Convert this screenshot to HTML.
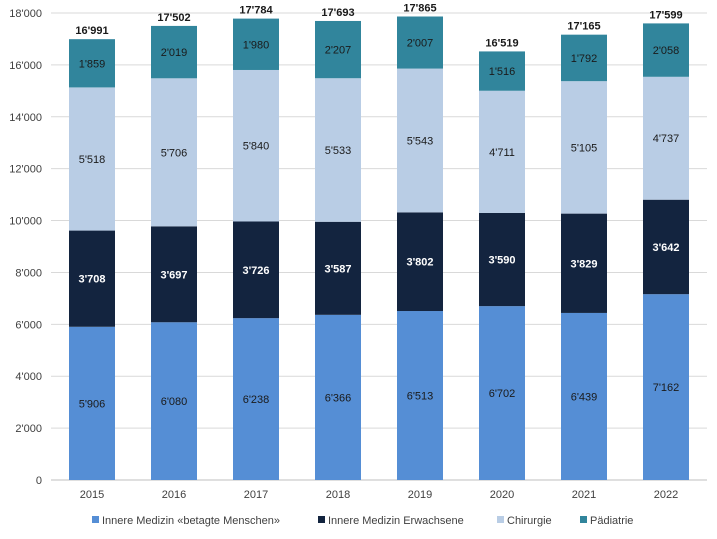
<!DOCTYPE html>
<html><head><meta charset="utf-8"><style>
body{margin:0;background:#fff;font-family:"Liberation Sans",Arial,sans-serif}
svg text{font-family:"Liberation Sans",Arial,sans-serif}
</style></head><body>
<svg id="chart" width="717" height="534" xmlns="http://www.w3.org/2000/svg"></svg>
<script>
const years=["2015","2016","2017","2018","2019","2020","2021","2022"];
const betagte=[5906,6080,6238,6366,6513,6702,6439,7162];
const erwachsene=[3708,3697,3726,3587,3802,3590,3829,3642];
const chirurgie=[5518,5706,5840,5533,5543,4711,5105,4737];
const paediatrie=[1859,2019,1980,2207,2007,1516,1792,2058];
const yTicks=[0,2000,4000,6000,8000,10000,12000,14000,16000,18000];
const seriesNames=["Innere Medizin «betagte Menschen»","Innere Medizin Erwachsene","Chirurgie","Pädiatrie"];
const series=[betagte,erwachsene,chirurgie,paediatrie];
const colors=["#558ed5","#13243f","#b9cde5","#31859c"];
const textCol=["#1a1a1a","#ffffff","#1a1a1a","#1a1a1a"];
const svg=document.getElementById('chart');
const NS="http://www.w3.org/2000/svg";
const x0=51,x1=707,yBase=480,yTop=13,yMax=18000;
const bw=(x1-x0)/years.length,barW=46;
function y(v){return yBase-(v/yMax)*(yBase-yTop);}
function xc(i){return x0+bw*(i+0.5);}
function fmt(v){const s=String(v);return s.length>3?s.slice(0,-3)+"'"+s.slice(-3):s;}
function el(t,a,txt){const e=document.createElementNS(NS,t);for(const k in a)e.setAttribute(k,a[k]);if(txt!==undefined)e.textContent=txt;svg.appendChild(e);return e;}
yTicks.forEach(t=>{
 const g=el('line',{x1:x0,x2:x1,y1:y(t),y2:y(t),stroke:t===0?'#bfbfbf':'#d9d9d9','stroke-width':1});
 
 
 const l=el('text',{x:42,y:y(t)+4,'text-anchor':'end','font-size':11,fill:'#404040'},fmt(t));
 
 
});
years.forEach((yr,i)=>{
 let cum=0;
 series.forEach((s,k)=>{
  const v=s[i];
  const r=el('rect',{x:xc(i)-barW/2,y:y(cum+v),width:barW,height:y(cum)-y(cum+v),fill:colors[k]});
  
  
  const t=el('text',{x:xc(i),y:(y(cum)+y(cum+v))/2+4,'text-anchor':'middle','font-size':11,fill:textCol[k],'font-weight':k===1?'bold':'normal'},fmt(v));
  
  
  cum+=v;
 });
 const tot=el('text',{x:xc(i),y:y(cum)-5,'text-anchor':'middle','font-size':11,'font-weight':'bold',fill:'#1a1a1a'},fmt(cum));
 
 
 const xl=el('text',{x:xc(i),y:498,'text-anchor':'middle','font-size':11,fill:'#404040'},yr);
 
 
});
const legX=[92,318,497,580];
seriesNames.forEach((n,k)=>{
 const m=el('rect',{x:legX[k],y:516,width:7,height:7,fill:colors[k]});
 
 
 const t=el('text',{x:legX[k]+10,y:524,'font-size':11,fill:'#404040'},n);
 
 
});
</script>
</body></html>
